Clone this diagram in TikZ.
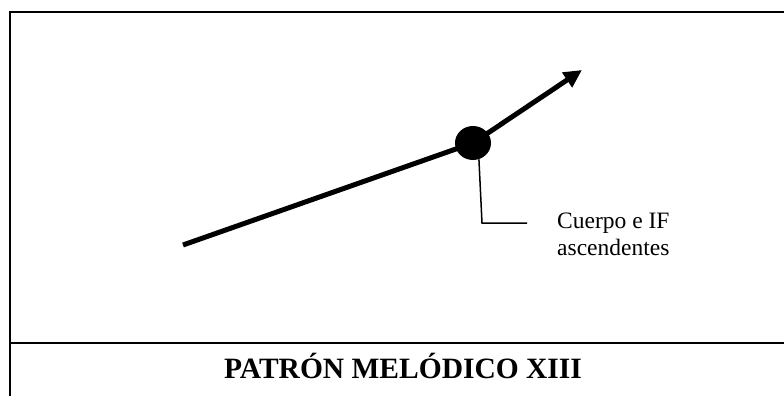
\documentclass[tikz,border=0pt]{standalone}
\usepackage{fontspec}
\setmainfont{Liberation Serif}
\usetikzlibrary{arrows.meta,shapes.geometric}
\tikzset{
  frameline/.style={line width=2pt, black},
  melody/.style={line width=5pt, black},
  callout/.style={line width=1.5pt, black},
  labeltext/.style={font=\fontsize{23.5}{27}\selectfont, align=left, inner sep=0pt},
  titletext/.style={font=\fontsize{29.5}{33}\selectfont\bfseries, inner sep=0pt},
}
\begin{document}
\begin{tikzpicture}[x=1pt,y=-1pt]
\useasboundingbox (0,0) rectangle (784,396);
% frame
\coordinate (tl) at (10,12);
\coordinate (tr) at (790,12);
\coordinate (bl) at (10,400);
\coordinate (dl) at (10,343);
\coordinate (dr) at (790,343);
\draw[frameline] (tr) -- (tl) -- (bl);
\draw[frameline] (dl) -- (dr);
% melody
\coordinate (start) at (183,245);
\node[ellipse, fill=black, minimum width=36pt, minimum height=34pt, inner sep=0pt] (dot) at (473,143) {};
\coordinate (tip) at (582,70);
\draw[melody] (start) -- (dot.center);
\draw[melody, -{Triangle[length=18pt,width=17pt]}] (dot.center) -- (tip);
% callout
\coordinate (elbow) at (482,223);
\coordinate (cend) at (527,223);
\draw[callout] (dot.-70) -- (elbow) -- (cend);
\node[labeltext, anchor=base west] (lab) at (557,255) {Cuerpo e IF\\ascendentes};
% title
\node[titletext, anchor=base] (title) at (403,378) {PATRÓN MELÓDICO XIII};
\end{tikzpicture}
\end{document}
